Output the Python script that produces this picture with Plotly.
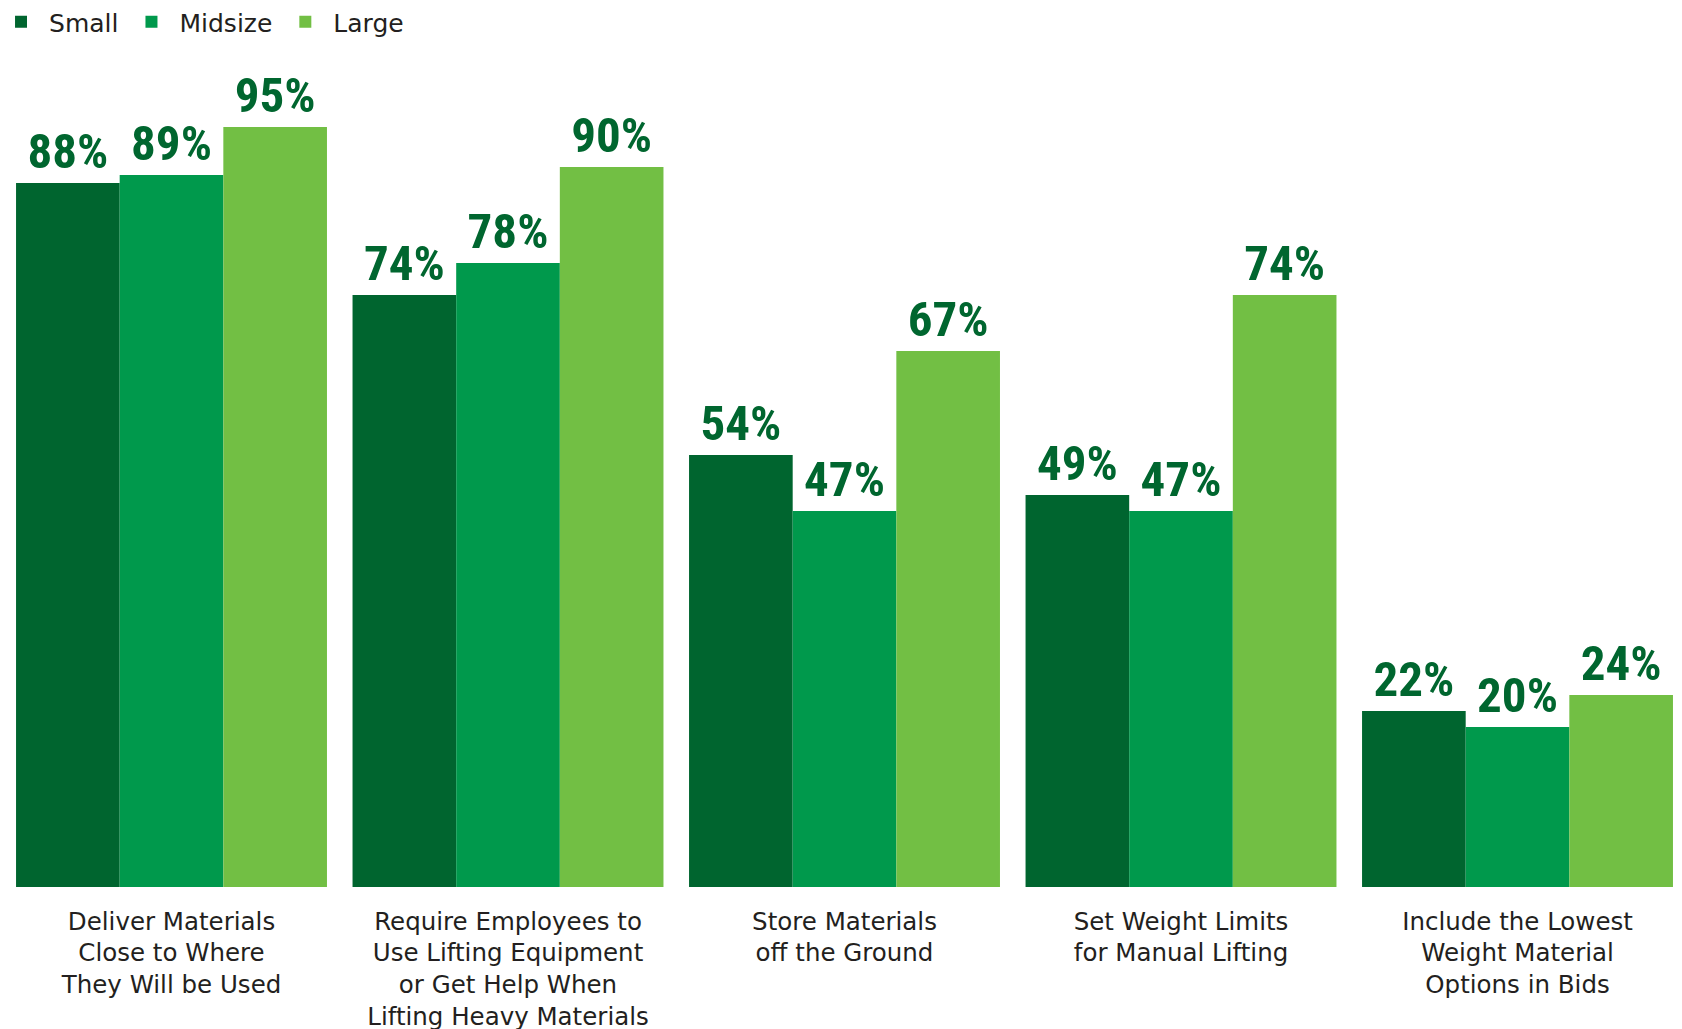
import plotly.graph_objects as go

categories = [
    "Deliver Materials<br>Close to Where<br>They Will be Used",
    "Require Employees to<br>Use Lifting Equipment<br>or Get Help When<br>Lifting Heavy Materials",
    "Store Materials<br>off the Ground",
    "Set Weight Limits<br>for Manual Lifting",
    "Include the Lowest<br>Weight Material<br>Options in Bids",
]
small = [88, 74, 54, 49, 22]
midsize = [89, 78, 47, 47, 20]
large = [95, 90, 67, 74, 24]

series = [
    ("Small", small, "#00652f"),
    ("Midsize", midsize, "#00994c"),
    ("Large", large, "#72bf44"),
]

x_pos = list(range(len(categories)))

fig = go.Figure()
for name, vals, color in series:
    fig.add_trace(go.Bar(
        name=name,
        x=x_pos,
        y=vals,
        marker=dict(color=color, line=dict(width=0)),
        text=[f"{v}%" for v in vals],
        textposition="outside",
        cliponaxis=False,
        textfont=dict(family="Roboto Condensed, Roboto, sans-serif",
                      size=49, color="#00662f", weight="bold"),
    ))

fig.update_layout(
    width=1682,
    height=1029,
    barmode="group",
    bargap=0.076,
    bargroupgap=0,
    plot_bgcolor="white",
    paper_bgcolor="white",
    margin=dict(l=0, r=0, t=79, b=150, autoexpand=False),
    showlegend=True,
    legend=dict(
        orientation="h",
        x=-0.0089, y=1.11, xref="paper", yref="paper",
        xanchor="left", yanchor="top",
        itemwidth=46,
        font=dict(family="DejaVu Sans", size=25, color="#231f20"),
        bgcolor="rgba(0,0,0,0)",
    ),
    xaxis=dict(
        tickmode="array",
        tickvals=x_pos,
        ticktext=categories,
        range=[-0.4859, 4.5126],
        showgrid=False,
        zeroline=False,
        showline=False,
        ticks="",
        automargin=False,
        ticklabelstandoff=17,
        tickfont=dict(family="DejaVu Sans", size=24.5, color="#231f20"),
    ),
    yaxis=dict(
        range=[0, 100],
        visible=False,
        showgrid=False,
        zeroline=False,
    ),
)

fig.write_html("out.html")
